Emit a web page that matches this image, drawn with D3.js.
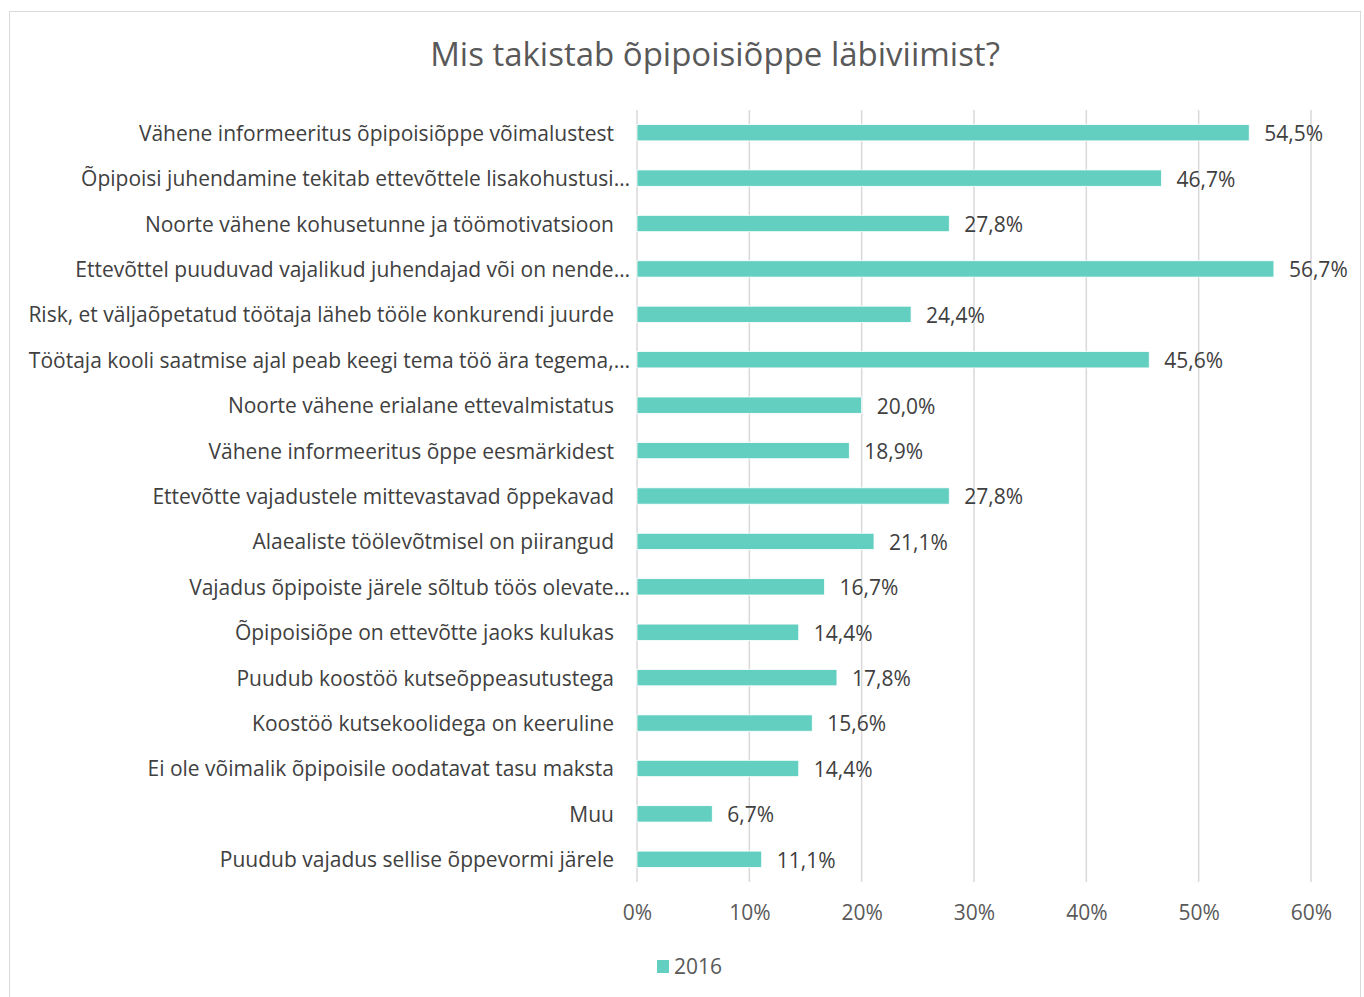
<!DOCTYPE html>
<html>
<head>
<meta charset="utf-8">
<script src="https://cdn.jsdelivr.net/npm/d3@7"></script>
<style>
  body { margin: 0; background: #fff; }
  text { font-family: "Open Sans", sans-serif; }
</style>
</head>
<body>
<script>
// Data
var categories = [
    "Vähene informeeritus õpipoisiõppe võimalustest",
    "Õpipoisi juhendamine tekitab ettevõttele lisakohustusi…",
    "Noorte vähene kohusetunne ja töömotivatsioon",
    "Ettevõttel puuduvad vajalikud juhendajad või on nende…",
    "Risk, et väljaõpetatud töötaja läheb tööle konkurendi juurde",
    "Töötaja kooli saatmise ajal peab keegi tema töö ära tegema,…",
    "Noorte vähene erialane ettevalmistatus",
    "Vähene informeeritus õppe eesmärkidest",
    "Ettevõtte vajadustele mittevastavad õppekavad",
    "Alaealiste töölevõtmisel on piirangud",
    "Vajadus õpipoiste järele sõltub töös olevate…",
    "Õpipoisiõpe on ettevõtte jaoks kulukas",
    "Puudub koostöö kutseõppeasutustega",
    "Koostöö kutsekoolidega on keeruline",
    "Ei ole võimalik õpipoisile oodatavat tasu maksta",
    "Muu",
    "Puudub vajadus sellise õppevormi järele"
];
var values2016 = [54.5, 46.7, 27.8, 56.7, 24.4, 45.6, 20.0, 18.9, 27.8, 21.1, 16.7, 14.4, 17.8, 15.6, 14.4, 6.7, 11.1];
var tickValues = [0, 10, 20, 30, 40, 50, 60];
var seriesName = "2016";

var width = 1364, height = 997;
var barColor = "#63cfc0";
var font = "Open Sans, sans-serif";

var svg = d3.select("body").append("svg")
    .attr("width", width)
    .attr("height", height);

// outer frame
svg.append("rect")
    .attr("x", 9.5).attr("y", 11.5)
    .attr("width", 1351).attr("height", 995)
    .attr("fill", "#fff")
    .attr("stroke", "#d9d9d9");

// title
svg.append("text")
    .attr("x", 715).attr("y", 66)
    .attr("text-anchor", "middle")
    .attr("font-size", 33)
    .attr("fill", "#595959")
    .text("Mis takistab õpipoisiõppe läbiviimist?");

// Scales
var x = d3.scaleLinear().domain([0, 60]).range([637, 1311]);
var y = d3.scaleBand().domain(categories).range([110, 882]).paddingInner(0.64).paddingOuter(0.32);

// gridlines
svg.append("g")
    .selectAll("line")
    .data(tickValues)
    .enter().append("line")
    .attr("x1", function(d) { return x(d); })
    .attr("x2", function(d) { return x(d); })
    .attr("y1", 110).attr("y2", 882)
    .attr("stroke", "#d9d9d9")
    .attr("stroke-width", 1.5);

// bars
svg.append("g")
    .selectAll("rect")
    .data(values2016)
    .enter().append("rect")
    .attr("x", x(0))
    .attr("y", function(d, i) { return y(categories[i]); })
    .attr("width", function(d) { return x(d) - x(0); })
    .attr("height", y.bandwidth())
    .attr("fill", barColor)
    .attr("stroke", "#fff")
    .attr("stroke-width", 0.8);

// value labels
svg.append("g")
    .selectAll("text")
    .data(values2016)
    .enter().append("text")
    .attr("x", function(d) { return x(d) + 15; })
    .attr("y", function(d, i) { return y(categories[i]) + y.bandwidth() / 2; })
    .attr("dy", "0.4em")
    .attr("font-size", 21)
    .attr("fill", "#404040")
    .text(function(d) { return d.toFixed(1).replace(".", ",") + "%"; });

// category axis
var yAxis = svg.append("g")
    .attr("transform", "translate(614,0)")
    .call(d3.axisLeft(y).tickSize(0).tickPadding(0));
yAxis.select(".domain").remove();
yAxis.selectAll("text")
    .attr("font-size", 21)
    .attr("font-family", font)
    .attr("fill", "#404040")
    .attr("dy", "0.38em")
    // truncated labels hang their ellipsis past the label edge
    .attr("x", function(d) { return d.slice(-1) === "…" ? 16 : 0; });

// x axis
var xAxis = svg.append("g")
    .attr("transform", "translate(0,882)")
    .call(d3.axisBottom(x).tickValues(tickValues).tickSize(0).tickPadding(23)
        .tickFormat(function(d) { return d + "%"; }));
xAxis.select(".domain").remove();
xAxis.selectAll("text")
    .attr("font-size", 21)
    .attr("font-family", font)
    .attr("fill", "#595959");

// legend
var legend = svg.append("g").attr("transform", "translate(657,960)");
legend.append("rect")
    .attr("width", 12).attr("height", 13)
    .attr("fill", barColor);
legend.append("text")
    .attr("x", 17).attr("y", 14)
    .attr("font-size", 21)
    .attr("fill", "#595959")
    .text(seriesName);
</script>
</body>
</html>
